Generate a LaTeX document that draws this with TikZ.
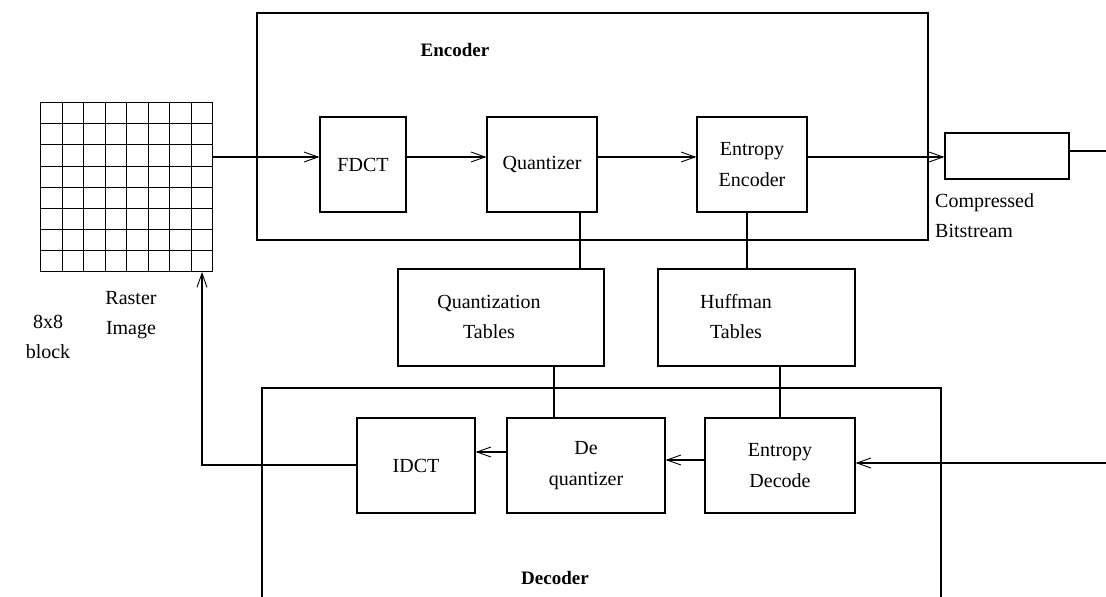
\documentclass[tikz,border=0pt]{standalone}
\usepackage{fontspec}
\setmainfont{Liberation Serif}
\usetikzlibrary{arrows.meta}
\tikzset{
  wire/.style={line width=1.3pt},
  flow/.style={wire,-{Straight Barb[length=14pt,width=10pt,line width=0.9pt]}},
  blockbox/.style={draw,line width=1.3pt,minimum width=#1,minimum height=95pt,inner sep=0pt,align=center,font=\fontsize{20}{31}\selectfont},
  lbl/.style={inner sep=0pt,align=center,font=\fontsize{20}{30}\selectfont},
  title/.style={inner sep=0pt,font=\fontsize{19}{22}\selectfont\bfseries},
  gridline/.style={line width=1.6pt}
}
\begin{document}
\begin{tikzpicture}[x=1pt,y=-1pt]
\useasboundingbox (0,0) rectangle (1106,597);

% encoder frame
\draw[wire] (257,13) rectangle (928,240);
\node[title] (enc) at (455,50) {Encoder};

% decoder frame, open at the bottom edge
\draw[wire] (262,597) -- (262,388) -- (941,388) -- (941,597);
\node[title] (dec) at (555,578) {Decoder};

% 8x8 raster block
\foreach \x in {40.5,62.5,83.5,105.5,126.5,148.5,169.5,191.5,212.5}
  \draw[gridline] (\x,102) -- (\x,272);
\foreach \y in {102.5,123.5,144.5,166.5,187.5,208.5,229.5,250.5,271.5}
  \draw[gridline] (40,\y) -- (213,\y);
\coordinate (gridout) at (213,157);
\coordinate (gridin) at (202,272);
\node[lbl] (raster) at (131,315) {Raster\\Image};
\node[lbl] (block) at (48,337) {8x8\\block};

% encoder blocks
\node[blockbox=86pt] (fdct) at (363,164.5) {FDCT};
\node[blockbox=110pt] (quant) at (542,164.5) {Quantizer};
\node[blockbox=110pt] (ee) at (752,164.5) {Entropy\\Encoder};

% compressed bitstream
\node[draw,line width=1.3pt,minimum width=124pt,minimum height=46pt,inner sep=0pt] (cb) at (1007,156) {};
\node[lbl,align=left,anchor=north west] (cbl) at (935,193) {Compressed\\Bitstream};
\coordinate (cbout) at (1106,151);

% tables
\node[blockbox=206pt,minimum height=97pt] (qt) at (501,317.5) {};
\node[lbl] (qtl) at (489,317) {Quantization\\Tables};
\node[blockbox=197pt,minimum height=97pt] (ht) at (756.5,317.5) {};
\node[lbl] (htl) at (736,317) {Huffman\\Tables};

% decoder blocks
\node[blockbox=118pt] (idct) at (416,465.5) {IDCT};
\node[blockbox=158pt] (deq) at (586,465.5) {De\\quantizer};
\node[blockbox=150pt] (ed) at (780,465.5) {Entropy\\Decode};
\coordinate (edin) at (1106,463);

% encoder path
\draw[flow] (gridout) -- (fdct.west |- gridout);
\draw[flow] (fdct.east |- gridout) -- (quant.west |- gridout);
\draw[flow] (quant.east |- gridout) -- (ee.west |- gridout);
\draw[flow] (ee.east |- gridout) -- (cb.west |- gridout);
\draw[wire] (cb.east |- cbout) -- (cbout);

% table links
\draw[wire] (quant.south -| 580,0) coordinate (qa) -- (qa |- qt.north);
\draw[wire] (ee.south -| 747,0) coordinate (ea) -- (ea |- ht.north);
\draw[wire] (qt.south -| 554,0) coordinate (qb) -- (qb |- deq.north);
\draw[wire] (ht.south -| 780,0) coordinate (hb) -- (hb |- ed.north);

% decoder path
\draw[flow] (edin) -- (ed.east |- edin);
\draw[flow] (ed.west |- 0,460) -- (deq.east |- 0,460);
\draw[flow] (deq.west |- 0,452) -- (idct.east |- 0,452);
\draw[flow] (idct.west |- 0,465) -- (gridin |- 0,465) -- (gridin);
\end{tikzpicture}
\end{document}
